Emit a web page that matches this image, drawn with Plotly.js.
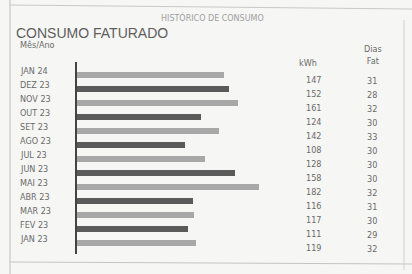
<!DOCTYPE html>
<html><head><meta charset="utf-8">
<script src="https://cdn.plot.ly/plotly-3.0.1.min.js"></script>
<style>html,body{margin:0;padding:0;background:#f6f6f4;}#c{width:412px;height:274px;}</style>
</head><body><div id="c"></div>
<script>
const months = ["JAN 24","DEZ 23","NOV 23","OUT 23","SET 23","AGO 23","JUL 23","JUN 23","MAI 23","ABR 23","MAR 23","FEV 23","JAN 23"];
const kwh = [147,152,161,124,142,108,128,158,182,116,117,111,119];
const dias = [31,28,32,30,33,30,30,30,32,31,30,29,32];
const barColors = ["#a8a8a8","#5a5a5a"];

const W = 412, H = 274;
const mL = 77, mR = 10, mT = 62, mB = 20;
const plotW = W - mL - mR;
const plotH = H - mT - mB;
const px = v => (v - mL) / plotW;   // pixel x -> paper x
const py = v => 1 - (v - mT) / plotH; // pixel y -> paper y

const data = [{
  type: 'bar', orientation: 'h',
  y: months, x: kwh,
  width: 0.36,
  marker: {color: months.map((m,i)=>barColors[i%2])},
  hoverinfo: 'none'
}];

const ann = [];
const tf = {family: 'Liberation Sans Narrow, DejaVu Sans Condensed, sans-serif', size: 9, color: '#6a6a6a'};
months.forEach((m,i)=>{
  ann.push({xref:'paper', yref:'y', x:px(18), y:m, text:m, showarrow:false, xanchor:'left', yshift:4, font:tf});
  ann.push({xref:'paper', yref:'y', x:px(313), y:m, text:String(kwh[i]), showarrow:false, xanchor:'center', yshift:-5, font:tf});
  ann.push({xref:'paper', yref:'y', x:px(372), y:m, text:String(dias[i]), showarrow:false, xanchor:'center', yshift:-6, font:tf});
});
ann.push({xref:'paper', yref:'paper', x:px(308), y:py(63), text:'kWh', showarrow:false, xanchor:'center', yanchor:'middle', font:tf});
ann.push({xref:'paper', yref:'paper', x:px(373), y:py(55), text:'Dias<br>Fat', showarrow:false, xanchor:'center', yanchor:'middle', font:tf});
ann.push({xref:'paper', yref:'paper', x:px(212), y:py(17), text:'HISTÓRICO DE CONSUMO', showarrow:false, xanchor:'center', yanchor:'middle', font:{family:'DejaVu Sans, sans-serif', size:8, color:'#a0a0a0'}});
ann.push({xref:'paper', yref:'paper', x:px(14), y:py(33), text:'CONSUMO FATURADO', showarrow:false, xanchor:'left', yanchor:'middle', font:{family:'Liberation Sans Narrow, sans-serif', size:14, color:'#5e5e5e'}});
ann.push({xref:'paper', yref:'paper', x:px(18), y:py(45), text:'Mês/Ano', showarrow:false, xanchor:'left', yanchor:'middle', font:tf});

const layout = {
  width: W, height: H,
  margin: {l:mL, r:mR, t:mT, b:mB, pad:0},
  paper_bgcolor: '#f6f6f4', plot_bgcolor: 'rgba(0,0,0,0)',
  showlegend: false,
  bargap: 0,
  xaxis: {range:[0, plotW], showgrid:false, zeroline:false, showticklabels:false, showline:false, ticks:'', fixedrange:true},
  yaxis: {type:'category', autorange:'reversed', showgrid:false, zeroline:false, showticklabels:false, ticks:'',
          showline:true, linecolor:'#444', linewidth:2, fixedrange:true},
  annotations: ann,
  shapes: [
    {type:'line', xref:'paper', yref:'paper', x0:px(10), x1:px(10), y0:py(274), y1:py(0), line:{color:'#bdbdbd', width:1}},
    {type:'line', xref:'paper', yref:'paper', x0:px(10), x1:px(412), y0:py(5), y1:py(9), line:{color:'#c8c8c8', width:1}},
    {type:'line', xref:'paper', yref:'paper', x0:px(10), x1:px(412), y0:py(262), y1:py(264), line:{color:'#c4c4c4', width:1}},
    {type:'line', xref:'paper', yref:'paper', x0:px(404), x1:px(404), y0:py(270), y1:py(20), line:{color:'#d0d0d0', width:1}}
  ]
};
Plotly.newPlot('c', data, layout, {staticPlot:true, displayModeBar:false});
</script></body></html>
